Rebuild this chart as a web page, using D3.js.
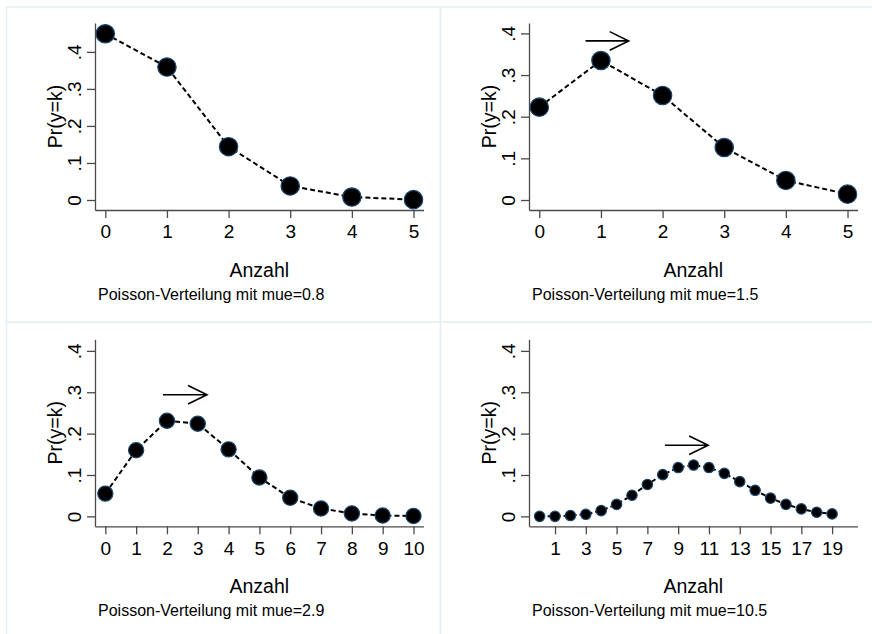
<!DOCTYPE html>
<html>
<head>
<meta charset="utf-8">
<script src="https://cdn.jsdelivr.net/npm/d3@7/dist/d3.min.js"></script>
<style>
  html, body { margin: 0; padding: 0; background: #fff; }
  svg { display: block; }
  text { font-family: "Liberation Sans", Arial, sans-serif; fill: #000; }
</style>
</head>
<body>
<svg id="chart" width="872" height="634"></svg>
<script>
// Poisson probabilities Pr(y=k) for four means
const means = ["0.8", "1.5", "2.9", "10.5"];
const probsMu08 = [0.449, 0.359, 0.144, 0.038, 0.008, 0.001];
const probsMu15 = [0.223, 0.335, 0.251, 0.126, 0.047, 0.014];
const probsMu29 = [0.055, 0.160, 0.231, 0.224, 0.162, 0.094, 0.045, 0.019, 0.007, 0.002, 0.001];
const probsMu105 = [0.000, 0.000, 0.002, 0.005, 0.014, 0.029, 0.051, 0.077, 0.101, 0.118,
                    0.124, 0.118, 0.104, 0.084, 0.063, 0.044, 0.029, 0.018, 0.010, 0.006];
const seriesList = [probsMu08, probsMu15, probsMu29, probsMu105];

// tick labels
const yTicks = [0, 0.1, 0.2, 0.3, 0.4];
const yTickLabels = ["0", ".1", ".2", ".3", ".4"];
const xTicksSmall = [0, 1, 2, 3, 4, 5];
const xTicksMid = [0, 1, 2, 3, 4, 5, 6, 7, 8, 9, 10];
const xTicksLarge = [1, 3, 5, 7, 9, 11, 13, 15, 17, 19];
const xTickList = [xTicksSmall, xTicksSmall, xTicksMid, xTicksLarge];

// arrows marking the shift of the mean: [y, xStart, xEnd] in data units
const shiftArrows = [null, [0.382, 0.75, 1.45], [0.294, 1.87, 3.3], [0.172, 8.14, 10.95]];

const xTitle = "Anzahl";
const yTitle = "Pr(y=k)";
const captionPrefix = "Poisson-Verteilung mit mue=";

// layout of each sub-graph
const layout = [
  { xDom: [-0.167, 5.162], yDom: [-0.027, 0.478], r: 9.2 },
  { xDom: [-0.167, 5.162], yDom: [-0.024, 0.425], r: 9.2 },
  { xDom: [-0.335, 10.325], yDom: [-0.024, 0.428], r: 7.6 },
  { xDom: [-0.69, 20.65], yDom: [-0.024, 0.428], r: 5.2 }
];

const svg = d3.select("#chart");
const axisColor = "#4a4a4a";
const markerEdge = "#1a476f";

seriesList.forEach((vals, i) => {
  const col = i % 2, row = Math.floor(i / 2);
  const left = 95 + col * 434;
  const right = left + 328.5;
  const top = 23 + row * 316.3;
  const bottom = top + 187;
  const L = layout[i];

  // graph region outline
  svg.append("rect")
    .attr("x", 6.5 + col * 434).attr("y", 7 + row * 315.3)
    .attr("width", 434).attr("height", 315.3)
    .attr("fill", "none").attr("stroke", "#e6eff1").attr("stroke-width", 1.5);

  const x = d3.scaleLinear().domain(L.xDom).range([left, right]);
  const y = d3.scaleLinear().domain(L.yDom).range([bottom, top]);

  const g = svg.append("g");

  // y axis
  const yAxis = d3.axisLeft(y).tickValues(yTicks)
    .tickFormat((d, k) => yTickLabels[k]).tickSize(8).tickPadding(6).tickSizeOuter(0);
  const ya = g.append("g").attr("transform", `translate(${left},0)`).call(yAxis);
  ya.select(".domain").attr("stroke", axisColor).attr("stroke-width", 1.3);
  ya.selectAll(".tick line").attr("stroke", axisColor).attr("stroke-width", 1.3);
  ya.selectAll(".tick text")
    .attr("font-size", 19).attr("fill", "#000")
    .attr("text-anchor", "middle")
    .attr("x", null).attr("dy", null)
    .attr("transform", "translate(-14,0) rotate(-90)")
    .attr("y", 0);

  // x axis
  const xAxis = d3.axisBottom(x).tickValues(xTickList[i])
    .tickFormat(d3.format("d")).tickSize(8).tickPadding(7).tickSizeOuter(0);
  const xa = g.append("g").attr("transform", `translate(0,${bottom})`).call(xAxis);
  xa.select(".domain").attr("stroke", axisColor).attr("stroke-width", 1.3);
  xa.selectAll(".tick line").attr("stroke", axisColor).attr("stroke-width", 1.3);
  xa.selectAll(".tick text").attr("font-size", 19).attr("fill", "#000");

  // axis titles
  g.append("text")
    .attr("x", (left + right) / 2).attr("y", bottom + 66.5)
    .attr("text-anchor", "middle").attr("font-size", 19.5)
    .text(xTitle);
  g.append("text")
    .attr("transform", `translate(${left - 33.5},${(top + bottom) / 2}) rotate(-90)`)
    .attr("text-anchor", "middle").attr("font-size", 19.5)
    .text(yTitle);

  // note below the graph
  g.append("text")
    .attr("x", left + 3).attr("y", bottom + 90)
    .attr("font-size", 16)
    .text(captionPrefix + means[i]);

  // connecting dashed line
  const line = d3.line().x((d, k) => x(k)).y(d => y(d));
  g.append("path").datum(vals)
    .attr("d", line)
    .attr("fill", "none").attr("stroke", "#000")
    .attr("stroke-width", 2).attr("stroke-dasharray", "5,3");

  // markers
  g.selectAll("circle.pt").data(vals).enter().append("circle")
    .attr("class", "pt")
    .attr("cx", (d, k) => x(k)).attr("cy", d => y(d))
    .attr("r", L.r)
    .attr("fill", "#000").attr("stroke", markerEdge).attr("stroke-width", 1.2);

  // shift arrow
  const a = shiftArrows[i];
  if (a) {
    const ay = y(a[0]), ax0 = x(a[1]), ax1 = x(a[2]);
    g.append("path")
      .attr("d", `M${ax0},${ay}H${ax1}M${ax1 - 19},${ay - 9.3}L${ax1},${ay}L${ax1 - 19},${ay + 9.3}`)
      .attr("fill", "none").attr("stroke", "#000").attr("stroke-width", 1.6);
  }
});
</script>
</body>
</html>
